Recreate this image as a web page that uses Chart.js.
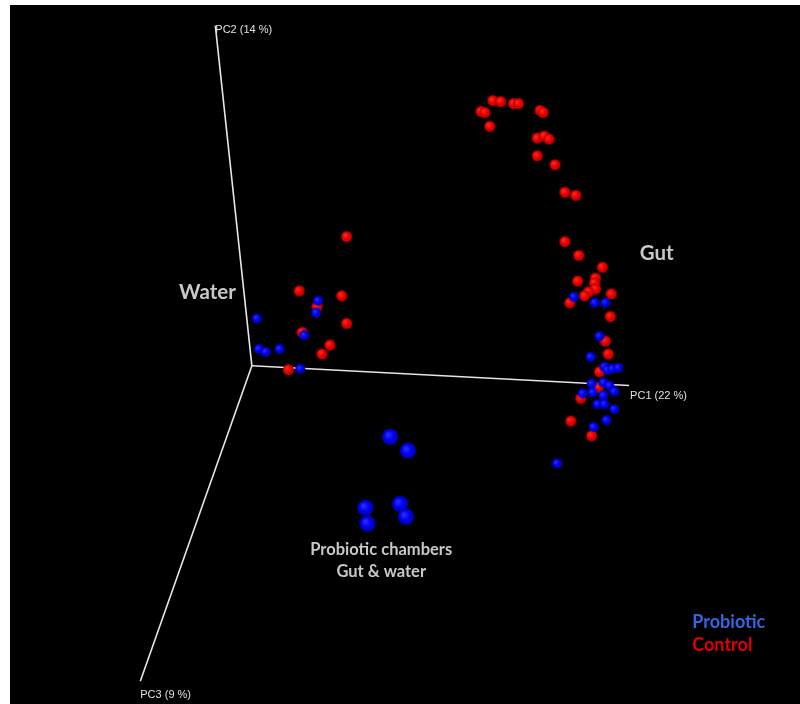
<!DOCTYPE html>
<html>
<head>
<meta charset="utf-8">
<script src="https://cdn.jsdelivr.net/npm/chart.js@4.4.1/dist/chart.umd.min.js"></script>
<style>
body{margin:0;background:#fff;}
canvas{display:block;}
</style>
</head>
<body>
<canvas id="pcoa" width="800" height="704"></canvas>
<script>
// projected PCoA coordinates (origin of the axes = 0,0)
var controlX=[244,252,265,270,232,236,292,295,241,289,296,301,289,307,317,328,317,331,355,348,330,347,348,341,337,322,364,363,358,361,352,351,333,323,344,
	96,48,91,66,96,51,79,71,37];
var controlY=[269,268,266,266,258,257,259,257,243,231,233,230,213,204,176,173,126,112,100,89,86,84,78,75,71,64,73,50,25,12,-6,-22,-33,-56,-71,
	131,76,71,60,43,34,21,12,-4];
var probioticX=[326,347,358,352,343,357,360,365,371,344,356,362,335,345,356,367,350,357,367,359,346,309,
	67,65,5,53,7,14,28,49];
var probioticY=[70,64,64,30,9,-1,-4,-3,-2,-18,-17,-20,-28,-27,-30,-26,-39,-39,-44,-55,-62,-99,
	66,54,48,31,17,14,17,-3];
var chamberX=[140,158,115,117,150,156];
var chamberY=[-72,-86,-144,-160,-140,-153];

var axisNames=["PC1 (22 %)","PC2 (14 %)","PC3 (9 %)"];
var axisEndX=[382,-37,-113];
var axisEndY=[-20,345,-320];

var groupLabels=["Water","Gut","Probiotic chambers","Gut & water"];
var groupLabelX=[-45,410,131,131];
var groupLabelY=[74,114,-187,-209];

var legendNames=["Probiotic","Control"];

function ball(color,r){
	var c=document.createElement('canvas');
	c.width=r*2+2;c.height=r*2+2;
	var g=c.getContext('2d');
	var grd=g.createRadialGradient(r+1-r*0.3,r+1-r*0.3,r*0.1,r+1,r+1,r);
	grd.addColorStop(0,color[0]);
	grd.addColorStop(0.55,color[1]);
	grd.addColorStop(1,color[2]);
	g.fillStyle=grd;
	g.beginPath();g.arc(r+1,r+1,r,0,Math.PI*2);g.fill();
	return c;
}
var RED=['#ff2a1a','#e80000','#b00000'];
var BLUE=['#2a2aff','#0000f0','#0000b0'];

function pts(xs,ys){
	var out=new Array();
	for(var i=0;i<xs.length;i++){out.push({x:xs[i],y:ys[i]});}
	return out;
}

var datasets=new Array();
for(var i=0;i<axisNames.length;i++){
	datasets.push({
		data:[{x:0,y:0},{x:axisEndX[i],y:axisEndY[i]}],
		showLine:true,borderColor:'#e6e6e6',borderWidth:1.6,pointRadius:0,order:5
	});
}
datasets.push({data:pts(controlX,controlY),pointStyle:ball(RED,5.5),order:2});
datasets.push({data:pts(probioticX,probioticY),pointStyle:ball(BLUE,5),order:1});
datasets.push({data:pts(chamberX,chamberY),pointStyle:ball(BLUE,8),order:1});

var decor={
	id:'decor',
	beforeDraw:function(chart){
		var ctx=chart.ctx;
		ctx.save();
		ctx.fillStyle='#ffffff';ctx.fillRect(0,0,chart.width,chart.height);
		ctx.fillStyle='#000000';ctx.fillRect(10,5,chart.width-10,chart.height-5);
		ctx.restore();
	},
	afterDatasetsDraw:function(chart){
		var ctx=chart.ctx,sx=chart.scales.x,sy=chart.scales.y;
		ctx.save();
		// axis names
		ctx.font='11px "Liberation Sans", Arial, sans-serif';
		ctx.fillStyle='#e0e0e0';
		ctx.textAlign='left';ctx.textBaseline='middle';
		ctx.fillText(axisNames[0],sx.getPixelForValue(axisEndX[0])+1,sy.getPixelForValue(axisEndY[0])+10);
		ctx.fillText(axisNames[1],sx.getPixelForValue(axisEndX[1]),sy.getPixelForValue(axisEndY[1])+4);
		ctx.fillText(axisNames[2],sx.getPixelForValue(axisEndX[2]),sy.getPixelForValue(axisEndY[2])+14);
		// group labels
		ctx.fillStyle='#c8c8c8';ctx.textAlign='center';
		ctx.font='bold 20.5px Lato, "Open Sans", sans-serif';
		ctx.fillText(groupLabels[0],sx.getPixelForValue(groupLabelX[0]),sy.getPixelForValue(groupLabelY[0]));
		ctx.fillText(groupLabels[1],sx.getPixelForValue(groupLabelX[1]),sy.getPixelForValue(groupLabelY[1]));
		ctx.font='bold 16.5px Lato, "Open Sans", sans-serif';
		ctx.fillText(groupLabels[2],sx.getPixelForValue(groupLabelX[2]),sy.getPixelForValue(groupLabelY[2]));
		ctx.fillText(groupLabels[3],sx.getPixelForValue(groupLabelX[3]),sy.getPixelForValue(groupLabelY[3]));
		// legend
		ctx.textAlign='left';
		ctx.font='bold 18px Lato, "Open Sans", sans-serif';
		ctx.fillStyle='#3366e0';
		ctx.fillText(legendNames[0],sx.getPixelForValue(446),sy.getPixelForValue(-260));
		ctx.fillStyle='#e00000';
		ctx.fillText(legendNames[1],sx.getPixelForValue(446),sy.getPixelForValue(-283));
		ctx.restore();
	}
};

new Chart(document.getElementById('pcoa').getContext('2d'),{
	type:'scatter',
	data:{datasets:datasets},
	options:{
		responsive:false,
		animation:false,
		layout:{padding:0},
		plugins:{legend:{display:false},tooltip:{enabled:false}},
		scales:{
			x:{type:'linear',min:-250,max:550,display:false},
			y:{type:'linear',min:-338,max:366,display:false}
		}
	},
	plugins:[decor]
});
</script>
</body>
</html>
